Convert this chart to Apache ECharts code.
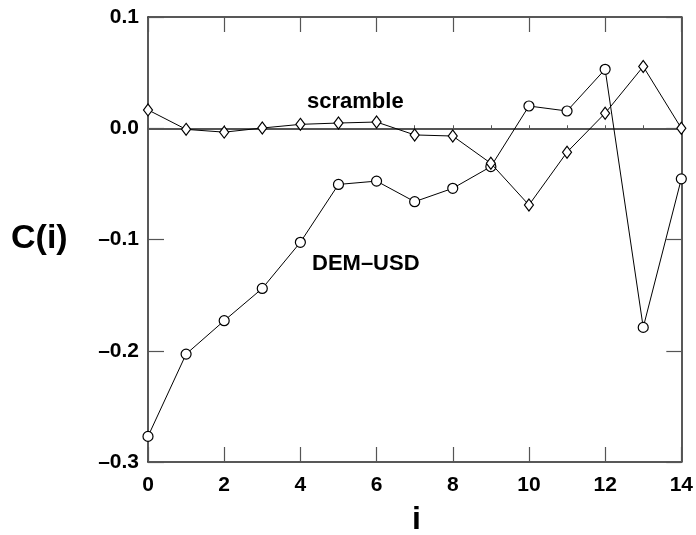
<!DOCTYPE html>
<html>
<head>
<meta charset="utf-8">
<script src="https://cdn.jsdelivr.net/npm/echarts@6/dist/echarts.min.js"></script>
<style>html,body{margin:0;padding:0;background:#fff;}#c{width:696px;height:535px;}</style>
</head>
<body>
<div id="c"></div>
<script>
const lags = [0,1,2,3,4,5,6,7,8,9,10,11,12,13,14];
const demUsd = [-0.277,-0.203,-0.173,-0.144,-0.1025,-0.0505,-0.0475,-0.066,-0.054,-0.0345,0.020,0.0155,0.053,-0.179,-0.0455];
const scramble = [0.0165,-0.001,-0.0035,0.0002,0.0035,0.0047,0.0056,-0.006,-0.007,-0.0315,-0.069,-0.0215,0.0135,0.0555,0.0];
const xTicks = [0,2,4,6,8,10,12,14];
const yTicks = [-0.3,-0.2,-0.1,0.0,0.1];

const FONT = '"Liberation Sans", Arial, sans-serif';
const fmtY = v => { const s = Math.abs(v).toFixed(1); return v < -1e-9 ? '\u2013' + s : s; };

const chart = echarts.init(document.getElementById('c'), null, {renderer:'canvas'});
chart.setOption({
  animation:false,
  backgroundColor:'#fff',
  grid:{left:148, top:17, width:534, height:445, containLabel:false},
  xAxis:[
    {type:'value', min:xTicks[0], max:xTicks[xTicks.length-1], interval:2, position:'bottom',
     axisLine:{show:true, onZero:false, lineStyle:{color:'#222', width:1.5}},
     axisTick:{show:true, inside:true, length:15, lineStyle:{color:'#555', width:1.2}},
     axisLabel:{margin:13, color:'#000', fontFamily:FONT, fontWeight:'bold', fontSize:21},
     splitLine:{show:false}},
    {type:'value', min:xTicks[0], max:xTicks[xTicks.length-1], interval:2, position:'top',
     axisLine:{show:true, onZero:false, lineStyle:{color:'#222', width:1.5}},
     axisTick:{show:true, inside:true, length:15, lineStyle:{color:'#555', width:1.2}},
     axisLabel:{show:false}, splitLine:{show:false}},
    {type:'value', min:xTicks[0], max:xTicks[xTicks.length-1], interval:1, position:'bottom',
     axisLine:{show:true, onZero:true, onZeroAxisIndex:0, lineStyle:{color:'#555', width:2}},
     axisTick:{show:true, inside:true, length:3, lineStyle:{color:'#555', width:1}},
     axisLabel:{show:false}, splitLine:{show:false}}
  ],
  yAxis:[
    {type:'value', min:yTicks[0], max:yTicks[yTicks.length-1], interval:0.1, position:'left',
     axisLine:{show:true, onZero:false, lineStyle:{color:'#222', width:1.5}},
     axisTick:{show:true, inside:true, length:16, lineStyle:{color:'#555', width:1.2}},
     axisLabel:{margin:9, color:'#000', fontFamily:FONT, fontWeight:'bold', fontSize:21, formatter:fmtY},
     splitLine:{show:false}},
    {type:'value', min:yTicks[0], max:yTicks[yTicks.length-1], interval:0.1, position:'right',
     axisLine:{show:true, onZero:false, lineStyle:{color:'#222', width:1.5}},
     axisTick:{show:true, inside:true, length:15, lineStyle:{color:'#555', width:1.2}},
     axisLabel:{show:false}, splitLine:{show:false}}
  ],
  series:[
    {name:'DEM–USD', type:'line', xAxisIndex:0, yAxisIndex:0,
     data: lags.map((x,i)=>[x, demUsd[i]]),
     symbol:'circle', symbolSize:10, showAllSymbol:true,
     lineStyle:{color:'#000', width:1},
     itemStyle:{color:'#fff', borderColor:'#000', borderWidth:1.2}, z:3},
    {name:'scramble', type:'line', xAxisIndex:0, yAxisIndex:0,
     data: lags.map((x,i)=>[x, scramble[i]]),
     symbol:'diamond', symbolSize:[9,12], showAllSymbol:true,
     lineStyle:{color:'#000', width:1},
     itemStyle:{color:'#fff', borderColor:'#000', borderWidth:1.2}, z:4}
  ],
  graphic:[
    {type:'text', left:11, top:222, style:{text:'C(i)', font:'bold 34px ' + FONT, fill:'#000'}},
    {type:'text', left:412, top:504, style:{text:'i', font:'bold 32px ' + FONT, fill:'#000'}},
    {type:'text', left:307, top:91, style:{text:'scramble', font:'bold 22px ' + FONT, fill:'#000'}},
    {type:'text', left:312, top:253, style:{text:'DEM\u2013USD', font:'bold 22px ' + FONT, fill:'#000'}}
  ]
});
</script>
</body>
</html>
